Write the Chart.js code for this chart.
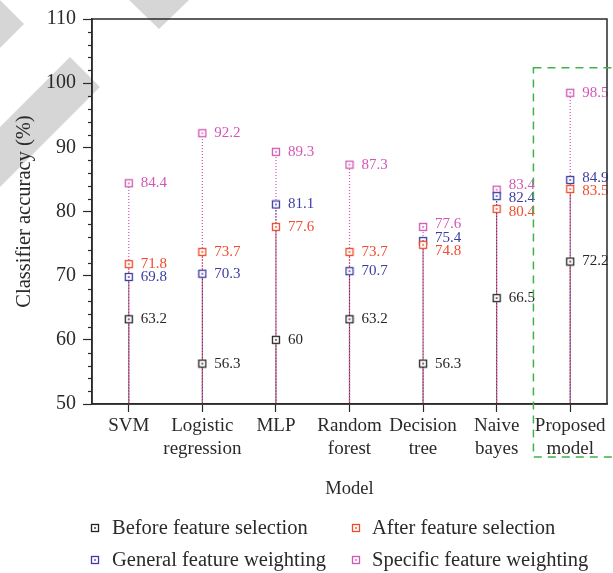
<!DOCTYPE html>
<html>
<head>
<meta charset="utf-8">
<script src="https://cdn.jsdelivr.net/npm/chart.js@4/dist/chart.umd.min.js"></script>
<style>
  html, body { margin: 0; padding: 0; background: #fff; }
  canvas { display: block; }
</style>
</head>
<body>
<canvas id="accChart" width="613" height="573"></canvas>
<script>
// Data
const models = [['SVM'], ['Logistic', 'regression'], ['MLP'], ['Random', 'forest'], ['Decision', 'tree'], ['Naive', 'bayes'], ['Proposed', 'model']];
const beforeSelection = [63.2, 56.3, 60, 63.2, 56.3, 66.5, 72.2];
const afterSelection = [71.8, 73.7, 77.6, 73.7, 74.8, 80.4, 83.5];
const generalWeighting = [69.8, 70.3, 81.1, 70.7, 75.4, 82.4, 84.9];
const specificWeighting = [84.4, 92.2, 89.3, 87.3, 77.6, 83.4, 98.5];
const yTicks = [50, 60, 70, 80, 90, 100, 110];

const FONT = "'Liberation Serif', 'DejaVu Serif', serif";
const INK = '#2a2a2a';

// square marker with a dot in the middle
function makeMarker(color) {
    const c = document.createElement('canvas');
    c.width = 10; c.height = 10;
    const g = c.getContext('2d');
    g.fillStyle = '#fff';
    g.fillRect(1.5, 1.5, 7, 7);
    g.strokeStyle = color;
    g.lineWidth = 1.3;
    g.strokeRect(1.5, 1.5, 7, 7);
    g.fillStyle = color;
    g.fillRect(4.2, 4.2, 1.6, 1.6);
    return c;
}

function series(label, data, color) {
    return {
        label: label,
        data: data,
        borderColor: color,
        backgroundColor: color,
        showLine: false,
        pointStyle: makeMarker(color),
        pointRadius: 5,
        pointHoverRadius: 5
    };
}

// grey watermark shapes in the top-left corner
const watermarkPlugin = {
    id: 'watermark',
    beforeDraw(chart) {
        const ctx = chart.ctx;
        ctx.save();
        ctx.fillStyle = '#d6d6d6';
        const shapes = [
            [[-24, 24], [0, 0], [24, 24], [0, 48]],
            [[70, 57], [100, 87], [-100, 287], [-130, 257]],
            [[129, 0], [159, -30], [189, 0], [159, 29]]
        ];
        shapes.forEach(pts => {
            ctx.beginPath();
            pts.forEach((p, i) => i ? ctx.lineTo(p[0], p[1]) : ctx.moveTo(p[0], p[1]));
            ctx.closePath();
            ctx.fill();
        });
        ctx.restore();
    }
};

// dotted stems from the axis up to each marker, interleaved so all colours show
const stemPlugin = {
    id: 'stems',
    beforeDatasetsDraw(chart) {
        const ctx = chart.ctx;
        const y = chart.scales.y;
        ctx.save();
        ctx.lineWidth = 1.2;
        ctx.setLineDash([1, 2]);
        chart.data.datasets.forEach((ds, d) => {
            const meta = chart.getDatasetMeta(d);
            ctx.strokeStyle = ds.borderColor;
            ctx.lineDashOffset = d;
            meta.data.forEach(pt => {
                ctx.beginPath();
                ctx.moveTo(pt.x, y.bottom);
                ctx.lineTo(pt.x, pt.y);
                ctx.stroke();
            });
        });
        ctx.restore();
    }
};

// value labels to the right of markers, spread apart when they collide
const labelPlugin = {
    id: 'valueLabels',
    afterDatasetsDraw(chart) {
        const ctx = chart.ctx;
        const n = chart.data.labels.length;
        const gap = 13.5;
        ctx.save();
        ctx.font = '15px ' + FONT;
        ctx.textAlign = 'left';
        ctx.textBaseline = 'middle';
        for (let i = 0; i < n; i++) {
            let items = chart.data.datasets.map((ds, d) => {
                const pt = chart.getDatasetMeta(d).data[i];
                return { x: pt.x, y: pt.y, text: String(ds.data[i]), color: ds.borderColor };
            }).sort((a, b) => a.y - b.y);
            // cluster overlapping labels around their mean
            let groups = items.map(it => ({ items: [it], y0: it.y }));
            let changed = true;
            while (changed) {
                changed = false;
                for (let g = 0; g < groups.length - 1; g++) {
                    const a = groups[g], b = groups[g + 1];
                    const aEnd = a.y0 + (a.items.length - 1) * gap;
                    if (b.y0 - aEnd < gap) {
                        const all = a.items.concat(b.items);
                        const mean = all.reduce((s, it) => s + it.y, 0) / all.length;
                        groups.splice(g, 2, { items: all, y0: mean - (all.length - 1) * gap / 2 });
                        changed = true;
                        break;
                    }
                }
            }
            groups.forEach(g => g.items.forEach((it, k) => {
                ctx.fillStyle = it.color;
                ctx.fillText(it.text, it.x + 12, g.y0 + k * gap);
            }));
        }
        ctx.restore();
    }
};

// plot frame, minor y ticks, highlight box, legend
const framePlugin = {
    id: 'frame',
    afterDraw(chart) {
        const ctx = chart.ctx;
        const a = chart.chartArea;
        const x = chart.scales.x, y = chart.scales.y;
        ctx.save();
        ctx.strokeStyle = INK;
        ctx.lineWidth = 1.5;
        ctx.strokeRect(a.left, a.top, a.right - a.left, a.bottom - a.top);

        ctx.lineWidth = 1.2;
        for (let v = 52; v < 110; v += 2) {
            if (v % 10 === 0) continue;
            const py = Math.round(y.getPixelForValue(v)) + 0.5;
            ctx.beginPath();
            ctx.moveTo(a.left - 4, py);
            ctx.lineTo(a.left, py);
            ctx.stroke();
        }

        // dashed box around the proposed model
        const bx = (x.getPixelForValue(5) + x.getPixelForValue(6)) / 2;
        const by = y.getPixelForValue(102.4);
        ctx.strokeStyle = '#3db34a';
        ctx.lineWidth = 1.5;
        ctx.setLineDash([8, 6]);
        ctx.strokeRect(bx, by, chart.width + 10 - bx, a.bottom + 53 - by);
        ctx.setLineDash([]);

        // legend in two columns
        ctx.font = '20.5px ' + FONT;
        ctx.textBaseline = 'middle';
        ctx.textAlign = 'left';
        const colMarker = [95, 356];
        const colText = [112, 372];
        const rowY = [528, 560];
        chart.data.datasets.forEach((ds, d) => {
            const c = d % 2, r = Math.floor(d / 2);
            ctx.drawImage(ds.pointStyle, colMarker[c] - 5, rowY[r] - 5);
            ctx.fillStyle = INK;
            ctx.fillText(ds.label, colText[c], rowY[r] + 1);
        });
        ctx.restore();
    }
};

new Chart(document.getElementById('accChart'), {
    type: 'line',
    data: {
        labels: models,
        datasets: [
            series('Before feature selection', beforeSelection, '#262626'),
            series('After feature selection', afterSelection, '#f04b2c'),
            series('General feature weighting', generalWeighting, '#3c3ca2'),
            series('Specific feature weighting', specificWeighting, '#d256b3')
        ]
    },
    options: {
        responsive: false,
        animation: false,
        layout: {
            padding: { top: 19, right: 2, bottom: 73, left: 0 }
        },
        plugins: {
            legend: { display: false },
            tooltip: { enabled: false }
        },
        scales: {
            x: {
                offset: true,
                afterFit: s => { s.height = 96; },
                grid: {
                    offset: false,
                    drawOnChartArea: false,
                    tickLength: 8,
                    tickWidth: 1.2,
                    tickColor: INK
                },
                border: { color: INK, width: 1.5 },
                ticks: {
                    color: INK,
                    font: { family: FONT, size: 19 },
                    padding: 3,
                    maxRotation: 0,
                    autoSkip: false
                },
                title: {
                    display: true,
                    text: 'Model',
                    color: INK,
                    font: { family: FONT, size: 18.5 },
                    padding: { top: 13, bottom: 0 }
                }
            },
            y: {
                min: 50,
                max: 110,
                afterFit: s => { s.width = 92; },
                afterBuildTicks: s => { s.ticks = yTicks.map(v => ({ value: v })); },
                grid: {
                    drawOnChartArea: false,
                    tickLength: 9,
                    tickWidth: 1.2,
                    tickColor: INK
                },
                border: { color: INK, width: 1.5 },
                ticks: {
                    color: INK,
                    font: { family: FONT, size: 20 },
                    padding: 7
                },
                title: {
                    display: true,
                    text: 'Classifier accuracy (%)',
                    color: INK,
                    font: { family: FONT, size: 20.5 },
                    padding: { top: 12, bottom: 0 }
                }
            }
        }
    },
    plugins: [watermarkPlugin, stemPlugin, labelPlugin, framePlugin]
});
</script>
</body>
</html>
